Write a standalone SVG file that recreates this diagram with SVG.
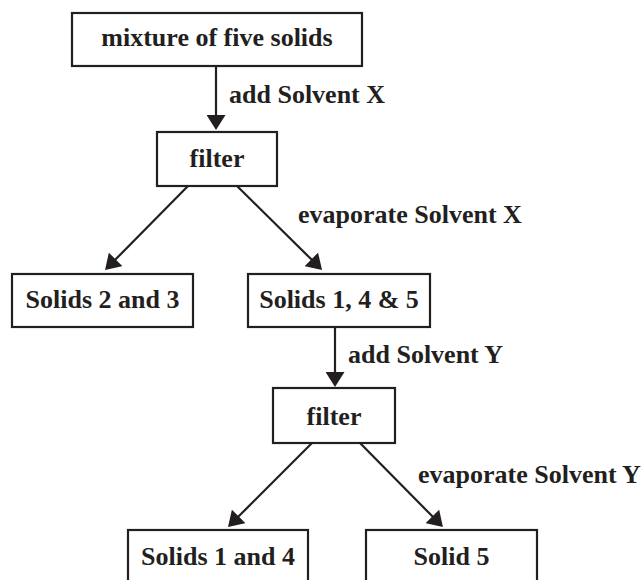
<svg xmlns="http://www.w3.org/2000/svg" width="644" height="580" viewBox="0 0 644 580">
  <defs>
    <style>
      .box { fill: #ffffff; stroke: #231f20; stroke-width: 2.2; }
      .t { font-family: 'Liberation Serif', 'DejaVu Serif', serif; font-weight: bold; font-size: 26px; fill: #231f20; }
      .c { text-anchor: middle; }
      .edge { stroke: #231f20; stroke-width: 2.2; fill: none; marker-end: url(#ah); }
    </style>
    <marker id="ah" viewBox="0 0 15 19" refX="2" refY="9.5" markerWidth="15" markerHeight="19" markerUnits="userSpaceOnUse" orient="auto">
      <path d="M0,0 L15,9.5 L0,19 z" fill="#231f20"/>
    </marker>
  </defs>
  <rect width="644" height="580" fill="#ffffff"/>

  <g id="connectors">
    <line class="edge" x1="216" y1="66" x2="216" y2="117"/>
    <line class="edge" x1="188" y1="186" x2="114.2" y2="260.8"/>
    <line class="edge" x1="237" y1="186" x2="312.8" y2="260.8"/>
    <line class="edge" x1="335" y1="327" x2="335" y2="374"/>
    <line class="edge" x1="312" y1="443" x2="237.2" y2="517.8"/>
    <line class="edge" x1="360" y1="443" x2="433.8" y2="517.8"/>
    <text class="t" x="229" y="103">add Solvent X</text>
    <text class="t" x="298" y="223">evaporate Solvent X</text>
    <text class="t" x="348" y="363">add Solvent Y</text>
    <text class="t" x="418" y="483">evaporate Solvent Y</text>
  </g>

  <g id="mixture">
    <rect class="box" x="72" y="13" width="290" height="53"/>
    <text class="t c" x="217" y="46">mixture of five solids</text>
  </g>
  <g id="filter1">
    <rect class="box" x="157" y="132" width="120" height="54"/>
    <text class="t c" x="217" y="167">filter</text>
  </g>
  <g id="solids23">
    <rect class="box" x="12" y="274" width="181" height="53"/>
    <text class="t c" x="102.5" y="308">Solids 2 and 3</text>
  </g>
  <g id="solids145">
    <rect class="box" x="248" y="274" width="182" height="53"/>
    <text class="t c" x="339" y="308">Solids 1, 4 &amp; 5</text>
  </g>
  <g id="filter2">
    <rect class="box" x="273" y="388" width="122" height="55"/>
    <text class="t c" x="334" y="425">filter</text>
  </g>
  <g id="solids14">
    <rect class="box" x="128" y="530" width="180" height="53"/>
    <text class="t c" x="218" y="565">Solids 1 and 4</text>
  </g>
  <g id="solid5">
    <rect class="box" x="366" y="530" width="171" height="53"/>
    <text class="t c" x="451.5" y="565">Solid 5</text>
  </g>
</svg>
